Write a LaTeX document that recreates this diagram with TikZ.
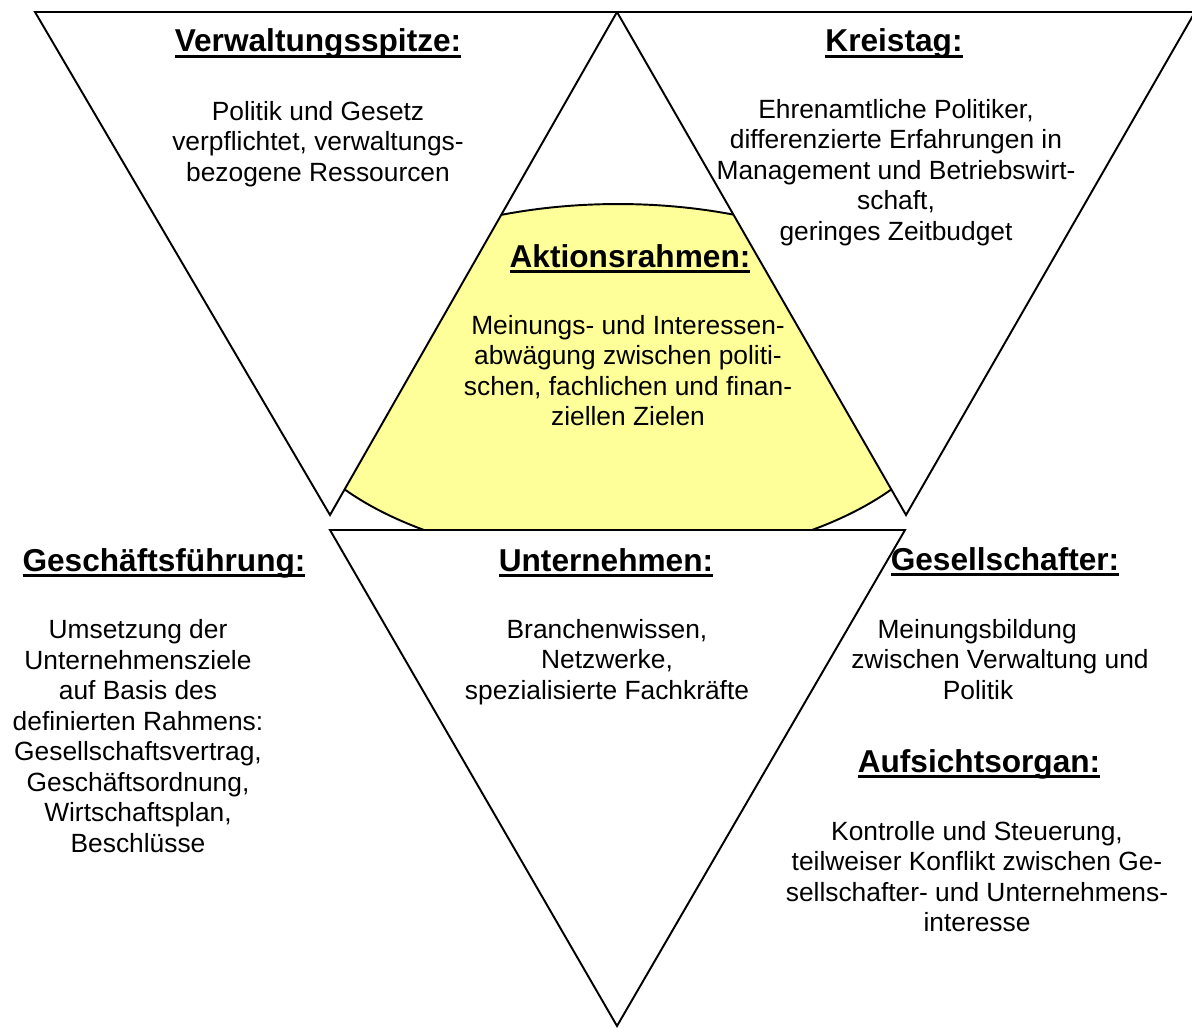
\documentclass[tikz,border=0pt]{standalone}
\usepackage{fontspec}
\setmainfont{Liberation Sans}
\definecolor{paleyellow}{HTML}{FFFF99}
\newsavebox{\hdbox}
\newcommand{\hdu}[1]{\sbox{\hdbox}{#1}\rlap{\rule[-3.4pt]{\wd\hdbox}{1.6pt}}\usebox{\hdbox}}
\begin{document}
\begin{tikzpicture}[x=0.02cm,y=-0.02cm,
  shape line/.style={draw=black,line width=1.1pt,line join=miter},
  hd/.style={anchor=base,inner sep=0pt,font=\fontsize{18}{21}\selectfont\bfseries},
  bd/.style={anchor=base,inner sep=0pt,align=center,font=\fontsize{15}{17.35}\selectfont}]
\clip (0,0) rectangle (1192,1027);
\fill[white] (0,0) rectangle (1192,1027);
% coordinates
\coordinate (L1) at (35,12);
\coordinate (M1) at (617,12);
\coordinate (R1) at (1195,12);
\coordinate (LA) at (330,515);
\coordinate (RA) at (906,515);
\coordinate (B1) at (330,530);
\coordinate (B2) at (905,530);
\coordinate (BA) at (617,1026);
\coordinate (EC) at (618,383);
% yellow ellipse behind
\draw[shape line,fill=paleyellow] (EC) ellipse [x radius=6.8cm, y radius=3.58cm];
% triangles
\draw[shape line,fill=white] (L1) -- (M1) -- (LA) -- cycle;
\draw[shape line,fill=white] (M1) -- (R1) -- (RA) -- cycle;
\draw[shape line,fill=white] (B1) -- (B2) -- (BA) -- cycle;
% texts (multi-line nodes are placed by the baseline of their last line)
\node[hd] (vh) at (318,52) {\hdu{Verwaltungsspitze:}};
\node[bd] (vb) at (318,181.2) {Politik und Gesetz\\verpflichtet, verwaltungs-\\bezogene Ressourcen};
\node[hd] (kh) at (894,52) {\hdu{Kreistag:}};
\node[bd] (kb) at (896,240.4) {Ehrenamtliche Politiker,\\differenzierte Erfahrungen in\\Management und Betriebswirt-\\schaft,\\geringes Zeitbudget};
\node[hd] (ah) at (630,267) {\hdu{Aktionsrahmen:}};
\node[bd] (ab) at (628,425.8) {Meinungs- und Interessen-\\abwägung zwischen politi-\\schen, fachlichen und finan-\\ziellen Zielen};
\node[hd] (gh) at (164,571) {\hdu{Geschäftsführung:}};
\node[bd] (gb) at (138,852.2) {Umsetzung der\\Unternehmensziele\\auf Basis des\\definierten Rahmens:\\Gesellschaftsvertrag,\\Geschäftsordnung,\\Wirtschaftsplan,\\Beschlüsse};
\node[hd] (uh) at (606,571) {\hdu{Unternehmen:}};
\node[bd] (ub) at (607,699.2) {Branchenwissen,\\Netzwerke,\\spezialisierte Fachkräfte};
\node[hd] (sh) at (1005,570) {\hdu{Gesellschafter:}};
\node[bd] (sb) at (1000,699.2) {Meinungsbildung\hspace*{26pt}\\zwischen Verwaltung und\\Politik\hspace*{25pt}};
\node[hd] (oh) at (979,772) {\hdu{Aufsichtsorgan:}};
\node[bd] (ob) at (977,931.8) {Kontrolle und Steuerung,\\teilweiser Konflikt zwischen Ge-\\sellschafter- und Unternehmens-\\interesse};
\end{tikzpicture}
\end{document}
